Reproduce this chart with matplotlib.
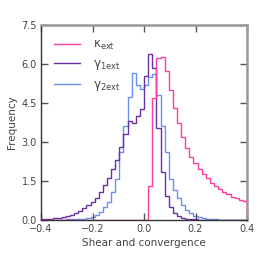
import numpy as np
import matplotlib
matplotlib.use("Agg")
import matplotlib.pyplot as plt
from matplotlib.lines import Line2D

plt.rcParams['mathtext.default'] = 'regular'

edges = np.round(np.linspace(-0.4, 0.4, 51), 3)

kappa = [0]*26 + [1.32, 4.7, 6.22, 6.28, 5.74, 5.0, 4.3, 3.72, 3.2, 2.76, 2.43, 2.18,
                  1.95, 1.77, 1.6, 1.43, 1.31, 1.18, 1.09, 1.0, 0.9, 0.83, 0.77, 0.73]

gamma1 = [0.03, 0.04, 0.05, 0.06, 0.08, 0.1, 0.15, 0.2, 0.26, 0.34,
          0.45, 0.58, 0.7, 0.86, 1.07, 1.35, 1.6, 1.95, 2.31, 2.79,
          3.3, 3.8, 3.72, 4.0, 4.25, 5.55, 6.4, 5.85, 3.55, 1.84,
          0.92, 0.48, 0.27, 0.14, 0.09, 0.05, 0.03, 0.02, 0.015, 0.01,
          0.01, 0.01, 0.005, 0.005, 0.0, 0.0, 0.0, 0.0, 0.0, 0.0]

gamma2 = [0.0, 0.0, 0.005, 0.01, 0.01, 0.015, 0.02, 0.025, 0.03, 0.04,
          0.05, 0.07, 0.1, 0.19, 0.32, 0.49, 0.7, 1.09, 1.56, 2.6,
          3.6, 4.74, 5.64, 5.19, 5.03, 5.19, 5.51, 5.6, 4.8, 3.6,
          2.6, 1.56, 1.15, 0.85, 0.58, 0.4, 0.26, 0.15, 0.1, 0.06,
          0.04, 0.03, 0.02, 0.015, 0.01, 0.005, 0.0, 0.0, 0.0, 0.0]

labels = [r"$\kappa_{ext}$", r"$\gamma_{1ext}$", r"$\gamma_{2ext}$"]
colors = ["#ff3d9e", "#6a2fa3", "#6a8ff0"]

xticks = [-0.4, -0.2, 0.0, 0.2, 0.4]
yticks = [0.0, 1.5, 3.0, 4.5, 6.0, 7.5]

fig = plt.figure(figsize=(2.6, 2.6), dpi=100)
ax = fig.add_axes([0.158, 0.154, 0.792, 0.75])

series = [kappa, gamma1, gamma2]
for vals, lab, col, z in zip(series, labels, colors, [3, 2, 1]):
    ax.stairs(vals, edges, color=col, lw=1.0, label=lab, zorder=z)

ax.set_xlim(-0.4, 0.4)
ax.set_ylim(0, 7.5)
ax.set_xticks(xticks)
ax.set_xticklabels(["\u22120.4", "\u22120.2", "0.0", "0.2", "0.4"])
ax.set_yticks(yticks)
ax.set_yticklabels(["0.0", "1.5", "3.0", "4.5", "6.0", "7.5"])
ax.tick_params(direction="in", length=5, width=1, colors="#555555",
               labelsize=7, labelcolor="#444444", top=True, right=True, pad=3)
for s in ["left", "bottom"]:
    ax.spines[s].set_color("#333333")
    ax.spines[s].set_linewidth(1.0)
for s in ["top", "right"]:
    ax.spines[s].set_color("#999999")
    ax.spines[s].set_linewidth(1.8)

ax.set_xlabel("Shear and convergence", fontsize=7.5, color="#444444", labelpad=3)
ax.set_ylabel("Frequency", fontsize=7.5, color="#444444", labelpad=3)

leg_handles = [Line2D([], [], color=c, lw=1.0) for c in colors]
ax.legend(leg_handles, labels, loc="upper left", frameon=False, fontsize=8.5,
          handlelength=2.2, labelspacing=0.45, borderaxespad=0.7,
          handletextpad=1.1, labelcolor="#444444")

fig.savefig("out.png", dpi=100)
